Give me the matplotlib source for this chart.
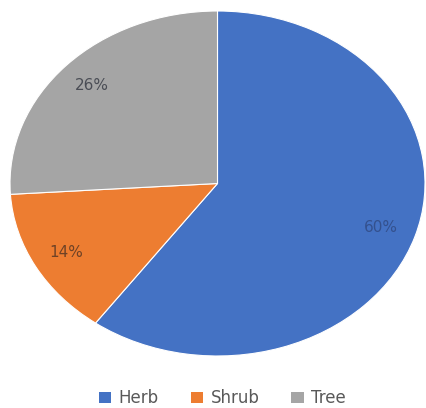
import numpy as np
import matplotlib
matplotlib.use("Agg")
import matplotlib.pyplot as plt
from matplotlib.patches import Patch

labels = ["Herb", "Shrub", "Tree"]
shares = [60, 14, 26]
colors = ["#4472C4", "#ED7D31", "#A5A5A5"]
label_colors = ["#34518E", "#6E4226", "#4A4D55"]

fig = plt.figure(figsize=(4.26, 4.08), dpi=100)
ax = fig.add_axes([10 / 426, 52 / 408, 415 / 426, 345 / 408])

wedges, texts, autotexts = ax.pie(
    shares, colors=colors, startangle=90, counterclock=False,
    autopct="%1.0f%%", pctdistance=0.83,
    wedgeprops=dict(edgecolor="white", linewidth=0.8),
    textprops=dict(fontsize=11),
)
for t, c in zip(autotexts, label_colors):
    t.set_color(c)

ax.set_aspect("auto")
ax.set_xlim(-1, 1)
ax.set_ylim(-1, 1)

handles = [Patch(facecolor=c, label=l) for c, l in zip(colors, labels)]
fig.legend(handles=handles, loc="center", bbox_to_anchor=(0.522, 0.024),
           ncol=3, frameon=False, fontsize=12, handlelength=0.75,
           handleheight=0.6, handletextpad=0.45, columnspacing=1.9,
           labelcolor="#595959")

fig.savefig("out.png", dpi=100)
